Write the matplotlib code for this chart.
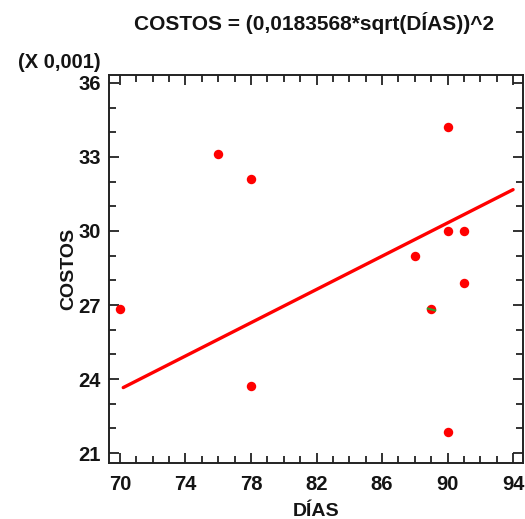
import matplotlib
matplotlib.use('Agg')
import matplotlib.pyplot as plt
from matplotlib.ticker import MultipleLocator
import numpy as np

# observed data (COSTOS in units of 0.001)
dias = [70, 76, 78, 78, 88, 89, 90, 90, 90, 91, 91]
costos = [26.85, 33.1, 32.1, 23.7, 29.0, 26.85, 34.2, 30.0, 21.85, 30.0, 27.9]
# fitted model COSTOS = (b*sqrt(DIAS))^2
coef_b = 0.0183568
fit_range = [70.2, 94.0]
# point marked in green (highlighted observation)
mark_x = [89]
mark_y = [26.85]
x_ticks = [70, 74, 78, 82, 86, 90, 94]
y_ticks = [21, 24, 27, 30, 33, 36]

plt.rcParams['font.family'] = ['Liberation Sans', 'DejaVu Sans']
plt.rcParams['font.weight'] = 'bold'
TXT = '#141414'

fig = plt.figure(figsize=(5.25, 5.19), dpi=100)
ax = fig.add_axes([0.2076, 0.1079, 0.7884, 0.7476])

xf = np.linspace(fit_range[0], fit_range[1], 120)
yf = (coef_b * np.sqrt(xf)) ** 2 * 1000
ax.plot(xf, yf, color='#ff0000', lw=2.4, solid_capstyle='round', zorder=2)
ax.plot(dias, costos, 'o', color='#ff0000', ms=6.8, mec='none', zorder=3)
ax.plot(mark_x, mark_y, marker=(2, 0, 75), color='#2ca02c', ms=7, mew=1.5, ls='none', zorder=4)

ax.set_xlim(69.33, 94.6)
ax.set_ylim(20.6, 36.32)
ax.set_xticks(x_ticks)
ax.set_yticks(y_ticks)
ax.xaxis.set_minor_locator(MultipleLocator(1))
ax.yaxis.set_minor_locator(MultipleLocator(1))
ax.tick_params(which='both', direction='in', top=True, right=True, width=1.3,
               colors='#222222', labelcolor=TXT, labelsize=14.5)
ax.tick_params(which='major', length=7.2)
ax.tick_params(which='minor', length=5)
ax.tick_params(axis='x', pad=9)
ax.tick_params(axis='y', pad=6)
for s in ax.spines.values():
    s.set_linewidth(1.4)
    s.set_color('#222222')

ax.set_xlabel('DÍAS', fontsize=14, fontweight='bold', color=TXT, labelpad=6)
ax.set_ylabel('COSTOS', fontsize=14, fontweight='bold', color=TXT, labelpad=1)
fig.text(0.598, 0.955, 'COSTOS = (0,0183568*sqrt(DÍAS))^2', ha='center', va='center',
         fontsize=15, fontweight='bold', color=TXT)
fig.text(0.192, 0.879, '(X 0,001)', ha='right', va='center', fontsize=14.5,
         fontweight='bold', color=TXT)

fig.savefig('out.png', dpi=100)
